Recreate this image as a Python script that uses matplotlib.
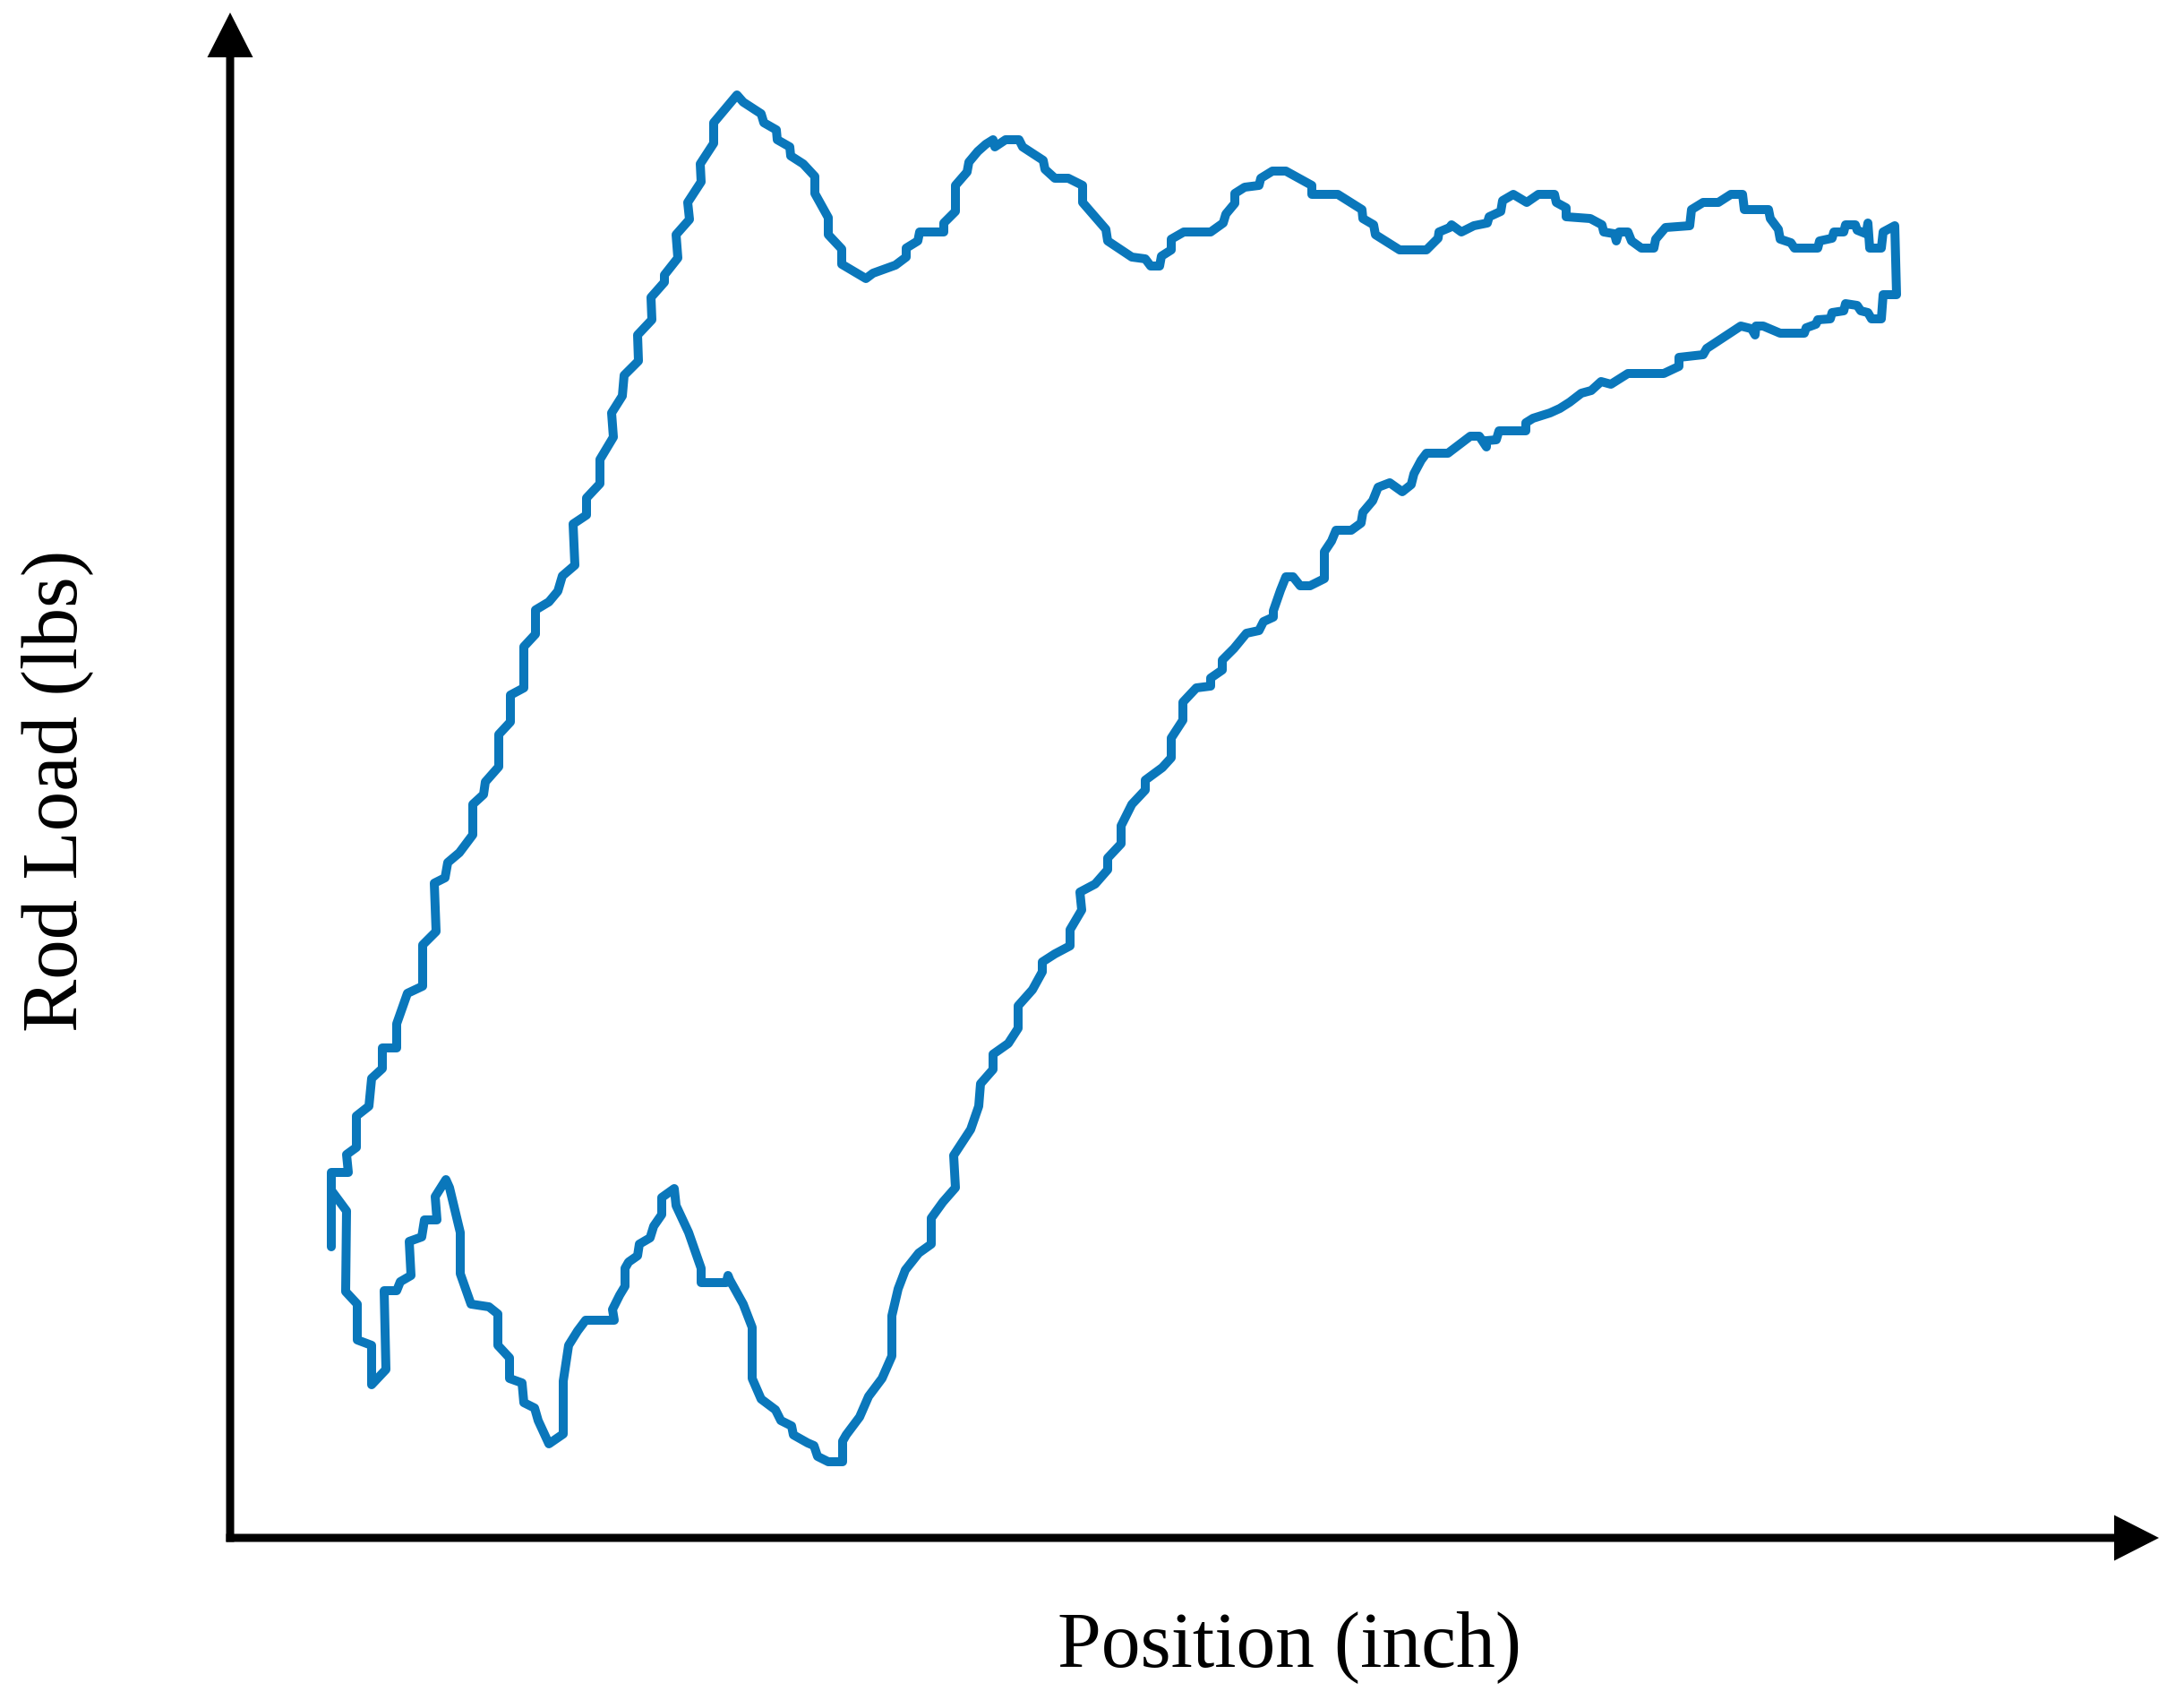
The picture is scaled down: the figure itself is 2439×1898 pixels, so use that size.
import matplotlib
matplotlib.use("Agg")
import matplotlib.pyplot as plt
from matplotlib.patches import FancyArrow

# Dynamometer card (arbitrary units: position, rod load)
position = [
    113, 113, 132, 130, 141, 141, 155, 158, 170, 170, 186, 186, 198, 215, 215, 230, 228, 240, 243, 256,
    271, 271, 283, 285, 300, 300, 313, 313, 328, 328, 341, 341, 356, 366, 371, 385, 383, 398, 398, 413,
    413, 428, 426, 438, 440, 456, 455, 471, 470, 485, 485, 500, 498, 513, 511, 526, 525, 540, 540, 566,
    573, 593, 596, 610, 611, 625, 626, 640, 653, 653, 668, 668, 683, 683, 710, 718, 743, 755, 755, 768,
    770, 797, 797, 810, 810, 823, 825, 835, 844, 852, 854, 866, 881, 885, 908, 910, 921, 936, 952, 952,
    978, 980, 1007, 1022, 1028, 1038, 1040, 1051, 1051, 1065, 1095, 1109, 1112, 1122, 1122, 1133, 1149, 1151, 1164, 1179,
    1208, 1208, 1237, 1264, 1265, 1277, 1279, 1306, 1336, 1349, 1350, 1362, 1364, 1375, 1389, 1404, 1406, 1419, 1421, 1433,
    1448, 1461, 1479, 1481, 1492, 1492, 1519, 1532, 1534, 1546, 1548, 1551, 1561, 1565, 1576, 1590, 1592, 1603, 1630, 1632,
    1645, 1662, 1676, 1689, 1691, 1718, 1720, 1729, 1731, 1743, 1747, 1773, 1775, 1789, 1791, 1802, 1804, 1815, 1817, 1827,
    1829, 1831, 1844, 1846, 1859, 1861,
    1846, 1844, 1833, 1829, 1821, 1817, 1804, 1802, 1789, 1787, 1773, 1771, 1760, 1758, 1731, 1712, 1704, 1703, 1699, 1687,
    1649, 1645, 1618, 1618, 1601, 1561, 1542, 1531, 1520, 1509, 1496, 1485, 1474, 1455, 1447, 1447, 1417, 1414, 1403, 1403,
    1395, 1385, 1360, 1336, 1330, 1322, 1319, 1309, 1295, 1282, 1276, 1265, 1263, 1252, 1235, 1230, 1222, 1222, 1206, 1195,
    1187, 1179, 1173, 1165, 1165, 1154, 1149, 1135, 1121, 1108, 1108, 1095, 1095, 1079, 1064, 1064, 1051, 1051, 1041, 1022,
    1022, 1007, 995, 995, 980, 980, 966, 949, 951, 938, 938, 921, 907, 907, 896, 880, 880, 869, 852, 852,
    838, 836, 827, 808, 810, 796, 783, 783, 769, 754, 746, 739, 739, 728, 713, 703, 688, 684, 684, 668,
    656, 652, 645, 629, 627, 615, 609, 593, 583, 583, 573, 558, 556, 554, 526, 526, 512, 498, 496, 482,
    482, 473, 469, 457, 455, 445, 441, 441, 435, 427, 429, 397, 388, 378, 372, 372, 356, 344, 340, 328,
    326, 312, 312, 299, 299, 289, 269, 257, 257, 245, 241, 229, 231, 217, 214, 200, 202, 190, 186, 172,
    174, 158, 158, 142, 142, 129, 130, 113,
]
rod_load = [
    325, 408, 408, 428, 436, 471, 482, 513, 524, 547, 547, 574, 608, 616, 662, 677, 731, 737, 754, 765,
    785, 819, 830, 844, 861, 897, 911, 941, 949, 995, 1009, 1036, 1045, 1057, 1074, 1086, 1132, 1142, 1161, 1177,
    1204, 1229, 1256, 1275, 1298, 1314, 1343, 1360, 1385, 1402, 1410, 1429, 1455, 1472, 1491, 1514, 1534, 1557, 1580, 1611,
    1603, 1590, 1580, 1572, 1561, 1553, 1543, 1534, 1520, 1501, 1474, 1455, 1439, 1422, 1406, 1412, 1421, 1430, 1440, 1448,
    1458, 1458, 1468, 1481, 1510, 1525, 1536, 1548, 1556, 1561, 1553, 1561, 1561, 1553, 1538, 1528, 1518, 1518, 1510, 1491,
    1461, 1448, 1430, 1428, 1420, 1420, 1431, 1438, 1450, 1458, 1458, 1468, 1478, 1490, 1501, 1508, 1510, 1518, 1526, 1526,
    1510, 1500, 1500, 1483, 1473, 1466, 1455, 1438, 1438, 1451, 1458, 1463, 1466, 1458, 1465, 1468, 1475, 1481, 1493, 1500,
    1491, 1500, 1500, 1491, 1485, 1475, 1473, 1466, 1458, 1456, 1448, 1458, 1458, 1448, 1440, 1440, 1450, 1463, 1465, 1483,
    1491, 1491, 1500, 1500, 1483, 1483, 1473, 1461, 1450, 1446, 1440, 1440, 1448, 1451, 1458, 1458, 1466, 1466, 1460, 1456,
    1468, 1440, 1440, 1458, 1465, 1388,
    1388, 1361, 1361, 1368, 1370, 1376, 1378, 1370, 1368, 1361, 1360, 1355, 1351, 1345, 1345, 1353, 1353, 1343, 1350, 1353,
    1328, 1321, 1318, 1308, 1300, 1300, 1288, 1291, 1281, 1278, 1268, 1261, 1256, 1250, 1245, 1236, 1236, 1226, 1225, 1218,
    1230, 1230, 1211, 1211, 1203, 1188, 1176, 1168, 1178, 1173, 1158, 1145, 1133, 1125, 1125, 1113, 1101, 1071, 1063, 1063,
    1073, 1073, 1058, 1035, 1028, 1023, 1013, 1010, 993, 980, 969, 960, 951, 949, 933, 913, 893, 871, 860, 846,
    835, 819, 795, 775, 759, 746, 730, 721, 701, 679, 661, 652, 643, 632, 612, 594, 569, 552, 540, 523,
    507, 482, 456, 427, 391, 375, 357, 328, 318, 299, 278, 248, 203, 178, 158, 135, 115, 108, 85, 85,
    91, 103, 106, 115, 125, 131, 143, 155, 178, 235, 261, 288, 293, 285, 285, 301, 341, 371, 390, 380,
    361, 348, 335, 328, 315, 308, 301, 281, 271, 255, 243, 243, 231, 215, 175, 116, 105, 131, 145, 151,
    173, 178, 201, 215, 250, 258, 261, 295, 341, 391, 400, 381, 355, 355, 336, 331, 293, 286, 276, 276,
    188, 171, 215, 221, 261, 275, 365, 388,
]

x_label = "Position (inch)"
y_label = "Rod Load (lbs)"

W, H = 2439, 1899
fig = plt.figure(figsize=(W / 100, H / 100), dpi=100)
ax = fig.add_axes([0, 0, 1, 1])
ax.set_xlim(-257, W - 257)
ax.set_ylim(1718 - H, 1718)
ax.axis("off")

ax.plot(position, rod_load, color="#0A77BB", lw=7.2,
        solid_joinstyle="round", solid_capstyle="round", zorder=3)

# axes with arrow heads
ax.add_patch(FancyArrow(0, -4.5, 0, 1703 + 4.5, width=9, head_width=51, head_length=50,
                        length_includes_head=True, color="black", lw=0, zorder=4))
ax.add_patch(FancyArrow(-4.5, 0, 2154 + 4.5, 0, width=9, head_width=51, head_length=50,
                        length_includes_head=True, color="black", lw=0, zorder=4))

ax.text(1440 - 257, 1718 - 1860, x_label, fontsize=63, family="Liberation Serif",
        ha="center", va="baseline", color="black")
ax.text(64 - 257, 1718 - 883, y_label, fontsize=64, family="Liberation Serif",
        ha="center", va="center", rotation=90, color="black")

fig.savefig("out.png", dpi=100, facecolor="white")
